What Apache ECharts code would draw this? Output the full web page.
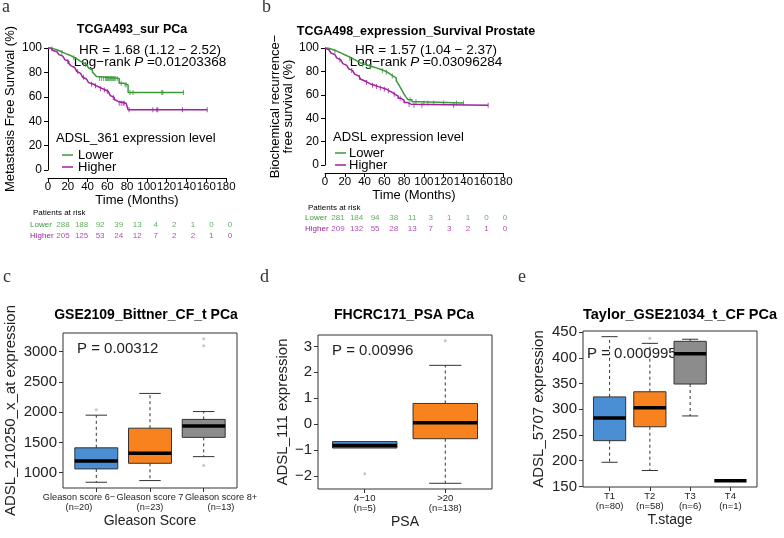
<!DOCTYPE html>
<html><head><meta charset="utf-8">
<script src="https://cdn.jsdelivr.net/npm/echarts@6.0.0/dist/echarts.min.js"></script>
<style>html,body{margin:0;padding:0;background:#fff;}#chart{width:784px;height:538px;}</style>
</head><body><div id="chart"></div>
<script>
// ---------- data ----------
const kmTimeTicks = [0,20,40,60,80,100,120,140,160,180];
const kmSurvTicks = [0,20,40,60,80,100];
const riskRows = ['Lower','Higher'];

// Panel a: TCGA493 (time in months, survival %)
const aLowerCurve = [[0,100],[3,99.3],[6,98.6],[9,97.5],[12,96.4],[15,95.4],[18,94.5],[21,93.3],[24,92],[27,90.6],[30,89],[33,87.8],[36,86.5],[39,85],[41,83.5],[43,82],[45,80.2],[47,78.4],[49,76.6],[51,75],[72,71.2],[76,69.8],[81,63.5],[137,63.5]];
const aLowerCensor = [[4,99.3],[14,96.4],[26,92],[38,86.5],[52,75],[54,75],[56,75],[58,75],[59,75],[60,75],[61,75],[62,75],[63,75],[64,75],[65,75],[66,75],[67,75],[68,75],[70,75],[74,71.2],[78,69.8],[79,69.8],[83,63.5],[86,63.5],[115,63.5],[116,63.5],[137,63.5]];
const aHigherCurve = [[0,100],[3,99],[5,98],[7,97],[9,95.8],[11,94.6],[13,93.3],[15,92],[17,90.5],[19,89],[21,87.3],[23,85.6],[25,84],[27,82.4],[29,80.8],[31,79.2],[33,77.6],[35,76],[37,74.6],[39,73],[41,71.6],[43,70.3],[46,69],[49,67.8],[52,66.7],[55,65.6],[58,64.4],[61,62.8],[63,61],[65,59.5],[67,57.8],[69,56.2],[71,54.7],[79,53.8],[81,49.3],[161,49.3]];
const aHigherCensor = [[20,89],[30,80.8],[36,76],[44,70.3],[48,69],[53,66.7],[57,65.6],[60,64.4],[66,59.5],[72,54.7],[74,54.7],[76,54.7],[77,54.7],[82,49.3],[106,49.3],[110,49.3],[111,49.3],[136,49.3],[161,49.3]];
const aRiskLower = [288,188,92,39,13,4,2,1,0,0];
const aRiskHigher = [205,125,53,24,12,7,2,2,1,0];

// Panel b: TCGA498
const bLowerCurve = [[0,100],[3,99.2],[6,98.3],[9,97.3],[12,96.2],[15,95],[18,93.8],[21,92.6],[24,91.3],[27,90],[30,88.6],[33,87.3],[36,86.2],[40,85],[44,84],[48,83],[52,81.8],[56,80.6],[60,79.3],[63,77.6],[66,76],[69,74.5],[72,72],[74,69.5],[76,66.5],[78,63.5],[80,60.5],[82,58],[84,55.8],[88,54],[95,53],[140,53]];
const bLowerCensor = [[10,97.3],[25,91.3],[38,86.2],[46,84],[58,80.6],[62,79.3],[68,76],[86,55.8],[92,54],[100,53],[104,53],[110,53],[120,53],[133,53],[140,53]];
const bHigherCurve = [[0,100],[2,98.5],[4,97],[6,95.7],[8,94.3],[10,92.8],[12,91.3],[14,89.8],[16,88.3],[18,86.7],[20,85.2],[22,83.7],[24,82.2],[26,80.7],[28,79.2],[30,77.7],[32,76.2],[34,74.7],[36,73.3],[38,72],[40,70.6],[43,69.3],[46,68.2],[50,67],[54,65.9],[58,64.8],[62,63.4],[65,62],[68,60.4],[71,58.8],[74,57],[77,55.3],[80,53.5],[83,52],[87,51],[165,51]];
const bHigherCensor = [[15,89.8],[27,80.7],[35,74.7],[42,70.6],[48,68.2],[52,67],[56,65.9],[60,64.8],[64,63.4],[70,60.4],[76,57],[85,52],[90,51],[98,51],[130,51],[165,51]];
const bRiskLower = [281,184,94,38,11,3,1,1,0,0];
const bRiskHigher = [209,132,55,28,13,7,3,2,1,0];

// Panel c: box stats [min, Q1, median, Q3, max]
const cGroups = ['Gleason score 6−','Gleason score 7','Gleason score 8+'];
const cN = [20,23,13];
const cStats = [[840,1061,1190,1410,1950],[868,1154,1319,1735,2310],[1264,1583,1770,1880,2010]];
const cOutliers = [[1,2040],[3,1116],[3,3100],[3,3215]];
const cYTicks = [1000,1500,2000,2500,3000];

// Panel d
const dGroups = ['4−10','>20'];
const dN = [5,138];
const dStats = [[-0.92,-0.92,-0.82,-0.67,-0.67],[-2.28,-0.56,0.06,0.80,2.27]];
const dOutliers = [[1,-1.91],[2,3.22]];
const dYTicks = [-2,-1,0,1,2,3];

// Panel e
const eGroups = ['T1','T2','T3','T4'];
const eN = [80,58,6,1];
const eStats = [[197,239,283,324,441],[181,266,303,334,428],[287,349,408,432,436],[161,161,161,161,161]];
const eOutliers = [[2,438]];
const eYTicks = [150,200,250,300,350,400,450];

// ---------- style ----------
const FONT = "'Liberation Sans', Arial, sans-serif";
const SERIF = "'Liberation Serif', 'DejaVu Serif', serif";
const GREEN = '#3a9a3a', PURPLE = '#a020a0';
const BOXCOL = ['#4a8fd3','#f7821e','#8c8c8c','#8c8c8c'];
const minus = v => v < 0 ? '−' + Math.abs(v) : String(v);

function kmX(gi, ticks) {
  return {type:'value', gridIndex:gi, min:0, max:180, offset:8,
    axisLine:{show:true,onZero:false,lineStyle:{color:'#000',width:1}},
    axisTick:{show:true,length:4,customValues:ticks,lineStyle:{color:'#000'}},
    axisLabel:{customValues:ticks,fontSize:11.5,color:'#000',margin:3,fontFamily:FONT,showMinLabel:true,showMaxLabel:true,hideOverlap:false},
    splitLine:{show:false},
    name:'Time (Months)', nameLocation:'middle', nameGap:15,
    nameTextStyle:{fontSize:13,color:'#000',fontFamily:FONT}};
}
function kmY(gi, ticks, name, gap, lh) {
  return {type:'value', gridIndex:gi, min:0, max:100,
    axisLine:{show:true,onZero:false,lineStyle:{color:'#000',width:1}},
    axisTick:{show:true,length:4,customValues:ticks,lineStyle:{color:'#000'}},
    axisLabel:{customValues:ticks,fontSize:12,color:'#000',margin:6,fontFamily:FONT,showMinLabel:true,showMaxLabel:true},
    splitLine:{show:false},
    name:name, nameLocation:'middle', nameGap:gap,
    nameTextStyle:{fontSize:13,color:'#000',fontFamily:FONT,lineHeight:lh}};
}
function riskX(gi){ return {type:'value',gridIndex:gi,min:0,max:180,show:false}; }
function riskY(gi){
  return {type:'category',gridIndex:gi,data:riskRows,inverse:true,
    axisLine:{show:false},axisTick:{show:false},splitLine:{show:false},
    axisLabel:{align:'left',margin:33,fontSize:8,fontFamily:FONT,
      color:v => v === 'Lower' ? GREEN : PURPLE}};
}
function boxX(gi, min, max, groups, ns, mode, fs) {
  const cv = groups.map((g,i)=>i+1);
  return {type:'value', gridIndex:gi, min, max, position:'bottom',
    axisLine:{show:false,onZero:false}, splitLine:{show:false},
    axisTick:{show:mode !== 'labelOnly', length:4, customValues:cv, lineStyle:{color:'#333'}},
    axisLabel:{show:mode !== 'tickOnly', customValues:cv, fontSize:fs||9.5, lineHeight:10.5, margin:4, color:'#222', fontFamily:FONT,
      showMinLabel:true, showMaxLabel:true, hideOverlap:false,
      formatter:v => groups[Math.round(v)-1] + '\n(n=' + ns[Math.round(v)-1] + ')'}};
}
function boxY(gi, min, max, ticks, name, gap) {
  return {type:'value', gridIndex:gi, min, max,
    axisLine:{show:false,onZero:false}, splitLine:{show:false},
    axisTick:{show:true,length:4,customValues:ticks,lineStyle:{color:'#333'}},
    axisLabel:{customValues:ticks,fontSize:15,color:'#222',margin:6,fontFamily:FONT,formatter:minus,showMinLabel:true,showMaxLabel:true},
    name, nameLocation:'middle', nameGap:gap,
    nameTextStyle:{fontSize:15,color:'#222',fontFamily:FONT}};
}
function rBox(colors) {
  return function(params, api) {
    const x = api.value(0);
    const c = k => api.coord([x, api.value(k)]);
    const pMin=c(1), pQ1=c(2), pMed=c(3), pQ3=c(4), pMax=c(5);
    const hw = api.size([0.8,0])[0]/2, cap = hw/2, cx = pMed[0];
    const dashed = {stroke:'#333',lineWidth:1,lineDash:[3,3]};
    const solid = {stroke:'#333',lineWidth:1};
    const ch = [];
    if (Math.abs(pMax[1]-pQ3[1]) > 0.5) {
      ch.push({type:'line',shape:{x1:cx,y1:pQ3[1],x2:cx,y2:pMax[1]},style:dashed});
      ch.push({type:'line',shape:{x1:cx-cap,y1:pMax[1],x2:cx+cap,y2:pMax[1]},style:solid});
    }
    if (Math.abs(pMin[1]-pQ1[1]) > 0.5) {
      ch.push({type:'line',shape:{x1:cx,y1:pQ1[1],x2:cx,y2:pMin[1]},style:dashed});
      ch.push({type:'line',shape:{x1:cx-cap,y1:pMin[1],x2:cx+cap,y2:pMin[1]},style:solid});
    }
    if (pQ1[1]-pQ3[1] > 0.5) {
      ch.push({type:'rect',shape:{x:cx-hw,y:pQ3[1],width:2*hw,height:pQ1[1]-pQ3[1]},style:{fill:colors[params.dataIndex],stroke:'#333',lineWidth:1}});
    }
    ch.push({type:'line',shape:{x1:cx-hw,y1:pMed[1],x2:cx+hw,y2:pMed[1]},style:{stroke:'#000',lineWidth:3.5}});
    return {type:'group', children:ch};
  };
}
function boxSeries(gi, stats) {
  return {type:'custom', xAxisIndex:gi.x, yAxisIndex:gi.y, renderItem:rBox(BOXCOL),
    encode:{x:0,y:[1,2,3,4,5]}, data:stats.map((s,i)=>[i+1].concat(s)), silent:true};
}
function outlierSeries(gi, pts) {
  return {type:'scatter', xAxisIndex:gi.x, yAxisIndex:gi.y, symbol:'circle', symbolSize:3,
    itemStyle:{color:'#b5b5b5'}, data:pts, silent:true};
}
function kmLine(gi, data, color) {
  return {type:'line', xAxisIndex:gi, yAxisIndex:gi, step:'end', showSymbol:false, symbol:'none',
    lineStyle:{color, width:1.5}, data, silent:true};
}
function kmCensor(gi, data, color) {
  return {type:'scatter', xAxisIndex:gi, yAxisIndex:gi, symbol:'rect', symbolSize:[1,5],
    itemStyle:{color}, data, silent:true};
}
function riskSeries(gi, row, vals, color) {
  return {type:'scatter', xAxisIndex:gi, yAxisIndex:gi, symbolSize:1, itemStyle:{color:'transparent'},
    data:vals.map((v,i)=>[kmTimeTicks[i], row, v]), silent:true,
    label:{show:true, position:'inside', formatter:p=>String(p.value[2]), fontSize:8, color, fontFamily:FONT}};
}
function T(text, x, y, size, opt) {
  opt = opt || {};
  return {type:'text', x, y, silent:true, style:{text, fill:opt.fill||'#000',
    font:(opt.bold?'bold ':'') + size + 'px ' + (opt.family||FONT),
    align:opt.align||'left', verticalAlign:opt.va||'middle'}};
}
function RT(parts, x, y, size, align) {
  return {type:'text', x, y, silent:true, style:{text:parts, align:align||'center', verticalAlign:'middle',
    fontSize:size, fontFamily:FONT, fill:'#000',
    rich:{n:{fontSize:size,fontFamily:FONT,fill:'#000'}, i:{fontSize:size,fontFamily:FONT,fontStyle:'italic',fill:'#000'}}}};
}
function legendLine(x, y, color) {
  return {type:'line', silent:true, shape:{x1:x,y1:y,x2:x+11,y2:y}, style:{stroke:color,lineWidth:1.5}};
}

const gridBase = {outerBoundsMode:'none', containLabel:false};
const xName = n => ({name:n, nameLocation:'middle', nameGap:25, nameTextStyle:{fontSize:14,color:'#222',fontFamily:FONT}});
const option = {
  animation:false,
  backgroundColor:'#fff',
  textStyle:{fontFamily:FONT},
  grid:[
    Object.assign({left:48, top:48, width:178, height:122}, gridBase),
    Object.assign({left:325, top:48, width:178, height:117}, gridBase),
    Object.assign({left:63, top:219.5, width:167, height:22}, gridBase),
    Object.assign({left:338, top:212.5, width:167, height:22}, gridBase),
    Object.assign({left:63, top:333, width:174, height:155, show:true, borderColor:'#333', borderWidth:1}, gridBase),
    Object.assign({left:318, top:335, width:174, height:154, show:true, borderColor:'#333', borderWidth:1}, gridBase),
    Object.assign({left:583, top:331, width:174, height:156, show:true, borderColor:'#333', borderWidth:1}, gridBase)
  ],
  xAxis:[
    kmX(0, kmTimeTicks),
    kmX(1, kmTimeTicks),
    riskX(2), riskX(3),
    boxX(4, 0.38, 3.62, cGroups, cN, 'tickOnly'),
    Object.assign(boxX(4, 0.775, 3.225, cGroups, cN, 'labelOnly', 9.2), xName('Gleason Score')),
    Object.assign(boxX(5, 0.42, 2.58, dGroups, dN, 'both'), xName('PSA')),
    Object.assign(boxX(6, 0.34, 4.66, eGroups, eN, 'both'), xName('T.stage'))
  ],
  yAxis:[
    kmY(0, kmSurvTicks, 'Metastasis Free Survival (%)', 31, 13),
    kmY(1, kmSurvTicks, 'Biochemical recurrence−\nfree survival (%)', 24, 13),
    riskY(2), riskY(3),
    boxY(4, 745, 3310, cYTicks, 'ADSL_210250_x_at expression', 45),
    boxY(5, -2.5, 3.44, dYTicks, 'ADSL_111 expression', 28),
    boxY(6, 149, 452, eYTicks, 'ADSL_5707 expression', 37)
  ],
  series:[
    kmLine(0, aLowerCurve, GREEN), kmLine(0, aHigherCurve, PURPLE),
    kmCensor(0, aLowerCensor, GREEN), kmCensor(0, aHigherCensor, PURPLE),
    kmLine(1, bLowerCurve, GREEN), kmLine(1, bHigherCurve, PURPLE),
    kmCensor(1, bLowerCensor, GREEN), kmCensor(1, bHigherCensor, PURPLE),
    riskSeries(2, 'Lower', aRiskLower, GREEN), riskSeries(2, 'Higher', aRiskHigher, PURPLE),
    riskSeries(3, 'Lower', bRiskLower, GREEN), riskSeries(3, 'Higher', bRiskHigher, PURPLE),
    boxSeries({x:4,y:4}, cStats), outlierSeries({x:4,y:4}, cOutliers),
    boxSeries({x:6,y:5}, dStats), outlierSeries({x:6,y:5}, dOutliers),
    boxSeries({x:7,y:6}, eStats), outlierSeries({x:7,y:6}, eOutliers)
  ],
  graphic:[
    T('a', 2, 16, 18, {family:SERIF, va:'bottom', fill:'#333'}),
    T('b', 262, 16, 18, {family:SERIF, va:'bottom', fill:'#333'}),
    T('c', 3, 286, 18, {family:SERIF, va:'bottom', fill:'#333'}),
    T('d', 260, 286, 18, {family:SERIF, va:'bottom', fill:'#333'}),
    T('e', 518, 286, 18, {family:SERIF, va:'bottom', fill:'#333'}),
    T('TCGA493_sur PCa', 132, 30, 12.5, {bold:true, align:'center'}),
    T('TCGA498_expression_Survival Prostate', 416, 32, 12.5, {bold:true, align:'center'}),
    T('GSE2109_Bittner_CF_t PCa', 146, 315, 14, {bold:true, align:'center'}),
    T('FHCRC171_PSA PCa', 404, 315, 14, {bold:true, align:'center'}),
    T('Taylor_GSE21034_t_CF PCa', 680, 315, 14.5, {bold:true, align:'center'}),
    T('HR = 1.68 (1.12 − 2.52)', 150, 50, 13.5, {align:'center'}),
    RT('{n|Log−rank }{i|P}{n| =0.01203368}', 150, 62, 13.5),
    T('HR = 1.57 (1.04 − 2.37)', 426, 50, 13.5, {align:'center'}),
    RT('{n|Log−rank }{i|P}{n| =0.03096284}', 426, 62, 13.5),
    T('ADSL_361 expression level', 56, 138, 13),
    legendLine(62, 155, GREEN), T('Lower', 78, 155, 13),
    legendLine(62, 167, PURPLE), T('Higher', 78, 167, 13),
    T('ADSL expression level', 333, 137, 13),
    legendLine(335, 153, GREEN), T('Lower', 349, 153, 13),
    legendLine(335, 165, PURPLE), T('Higher', 349, 165, 13),
    T('Patients at risk', 33, 213, 8),
    T('Patients at risk', 308, 208, 8),
    T('P = 0.00312', 77, 349, 15, {fill:'#222'}),
    T('P = 0.00996', 332, 351, 15, {fill:'#222'}),
    T('P = 0.000995', 587, 354, 15, {fill:'#222'})
  ]
};
const chart = echarts.init(document.getElementById('chart'), null, {renderer:'canvas'});
chart.setOption(option);
</script>
</body></html>
